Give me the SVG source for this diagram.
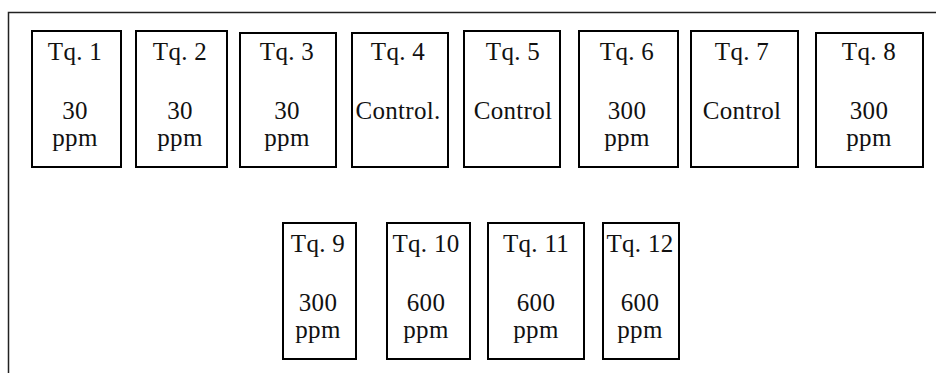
<svg xmlns="http://www.w3.org/2000/svg" width="936" height="373" viewBox="0 0 936 373">
<style>
.frame{fill:none;stroke:#222;stroke-width:1.5}
.box{fill:#fff;stroke:#000;stroke-width:2}
text{font-family:"Liberation Serif","Times New Roman",serif;font-size:25px;fill:#111;text-anchor:middle;letter-spacing:0.3px}
</style>
<rect width="936" height="373" fill="#fff"/>
<rect class="frame" x="8.5" y="12.5" width="940" height="400"/>
<g id="tq1"><rect class="box" x="32" y="31" width="89" height="136"/><text x="75" y="60">Tq. 1</text><text x="75" y="119">30</text><text x="75" y="146">ppm</text></g>
<g id="tq2"><rect class="box" x="136" y="31" width="91" height="136"/><text x="180" y="60">Tq. 2</text><text x="180" y="119">30</text><text x="180" y="146">ppm</text></g>
<g id="tq3"><rect class="box" x="240" y="33" width="96" height="134"/><text x="287" y="60">Tq. 3</text><text x="287" y="119">30</text><text x="287" y="146">ppm</text></g>
<g id="tq4"><rect class="box" x="352" y="33" width="96" height="134"/><text x="398" y="60">Tq. 4</text><text x="398" y="119">Control.</text></g>
<g id="tq5"><rect class="box" x="464" y="31" width="96" height="136"/><text x="513" y="60">Tq. 5</text><text x="513" y="119">Control</text></g>
<g id="tq6"><rect class="box" x="579" y="31" width="99" height="136"/><text x="627" y="60">Tq. 6</text><text x="627" y="119">300</text><text x="627" y="146">ppm</text></g>
<g id="tq7"><rect class="box" x="691" y="31" width="107" height="136"/><text x="742" y="60">Tq. 7</text><text x="742" y="119">Control</text></g>
<g id="tq8"><rect class="box" x="816" y="33" width="107" height="134"/><text x="869" y="60">Tq. 8</text><text x="869" y="119">300</text><text x="869" y="146">ppm</text></g>
<g id="tq9"><rect class="box" x="283" y="223" width="73" height="136"/><text x="318" y="252">Tq. 9</text><text x="318" y="311">300</text><text x="318" y="338">ppm</text></g>
<g id="tq10"><rect class="box" x="387" y="223" width="83" height="136"/><text x="426" y="252">Tq. 10</text><text x="426" y="311">600</text><text x="426" y="338">ppm</text></g>
<g id="tq11"><rect class="box" x="488" y="223" width="96" height="136"/><text x="536" y="252">Tq. 11</text><text x="536" y="311">600</text><text x="536" y="338">ppm</text></g>
<g id="tq12"><rect class="box" x="603" y="223" width="76" height="136"/><text x="640" y="252">Tq. 12</text><text x="640" y="311">600</text><text x="640" y="338">ppm</text></g>
<g id="connectors"></g>
</svg>
